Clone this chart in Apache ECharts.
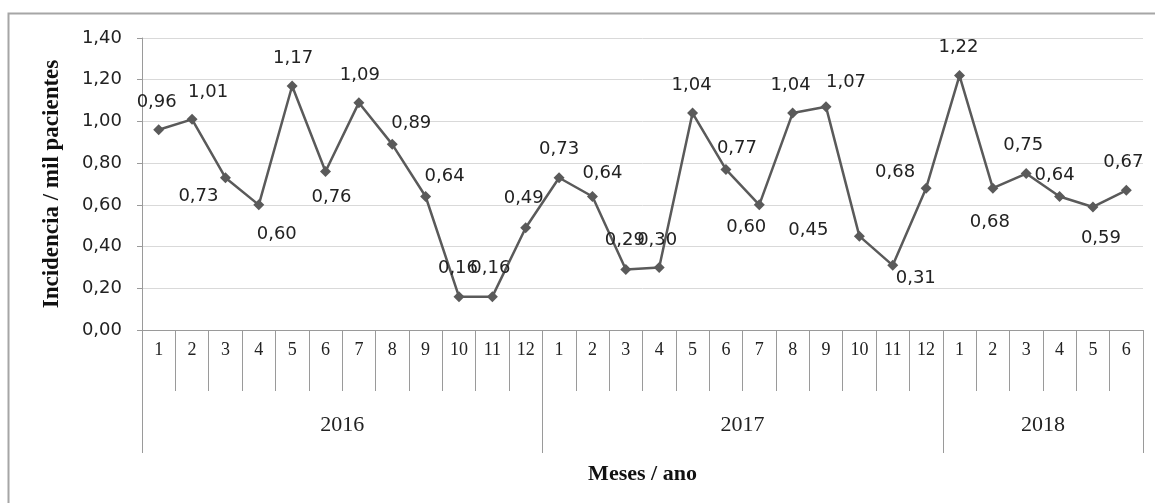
<!DOCTYPE html>
<html lang="pt">
<head>
    <meta charset="utf-8">
    <title>Incidencia / mil pacientes</title>
    <script src="https://cdn.jsdelivr.net/npm/echarts@6.0.0/dist/echarts.min.js"></script>
    <style>
        html, body { margin: 0; padding: 0; background: #fff; }
    </style>
</head>
<body>
    <div id="chart" style="width:1155px; height:503px;"></div>

<script type="text/javascript">
// dados
var months = ['1','2','3','4','5','6','7','8','9','10','11','12',
              '1','2','3','4','5','6','7','8','9','10','11','12',
              '1','2','3','4','5','6'];
var years = ['2016', '2017', '2018'];
var monthsPerYear = [12, 12, 6];
var incidence = [0.96, 1.01, 0.73, 0.60, 1.17, 0.76, 1.09, 0.89, 0.64, 0.16, 0.16, 0.49,
                 0.73, 0.64, 0.29, 0.30, 1.04, 0.77, 0.60, 1.04, 1.07, 0.45, 0.31, 0.68,
                 1.22, 0.68, 0.75, 0.64, 0.59, 0.67];
var yTicks = [0, 0.2, 0.4, 0.6, 0.8, 1.0, 1.2, 1.4];

// posicao dos rotulos (dx, dy em px a partir do ponto)
var labelOffset = [[-2,-27],[16,-27],[-27,19],[18,29],[1,-28],[6,26],[1,-27],[19,-21],[19,-20],[-1,-28],[-2,-28],[-2,-29],
                   [0,-28],[10,-23],[-1,-29],[-2,-27],[-1,-28],[11,-21],[-13,22],[-2,-28],[20,-25],[-51,-6],[23,13],[-31,-16],
                   [-1,-28],[-3,34],[-3,-28],[-5,-21],[8,31],[-3,-28]];

// limites e centros dos anos no eixo
var yearBounds = [0];
var yearCenters = [];
monthsPerYear.forEach(function (n) {
    var start = yearBounds[yearBounds.length - 1];
    yearCenters.push(start + n / 2);
    yearBounds.push(start + n);
});

function fmt(v) { return v.toFixed(2).replace('.', ','); }

var axisGray = '#9a9a9a';
var myChart = echarts.init(document.getElementById('chart'));

myChart.setOption({
    animation: false,
    graphic: [{
        type: 'rect',
        shape: { x: 8.5, y: 13.5, width: 1200, height: 600 },
        style: { fill: 'none', stroke: '#a6a6a6', lineWidth: 2 },
        silent: true
    }],
    grid: { left: 142, right: 12, top: 38, bottom: 173 },
    xAxis: [
        {
            type: 'category',
            data: months,
            boundaryGap: true,
            axisLine: { lineStyle: { color: axisGray, width: 1 } },
            axisTick: { show: true, length: 61, interval: 0, lineStyle: { color: axisGray } },
            axisLabel: { interval: 0, margin: 11, fontFamily: 'Liberation Serif', fontSize: 18, color: '#222' },
            splitLine: { show: false }
        },
        {
            type: 'value',
            min: 0,
            max: yearBounds[yearBounds.length - 1],
            position: 'bottom',
            axisLine: { show: false },
            axisTick: { show: true, length: 123, customValues: yearBounds, lineStyle: { color: axisGray } },
            axisLabel: {
                customValues: yearCenters,
                margin: 84,
                fontFamily: 'Liberation Serif',
                fontSize: 22,
                color: '#222',
                formatter: function (v) {
                    var i = yearCenters.indexOf(v);
                    return i >= 0 ? years[i] : '';
                }
            },
            splitLine: { show: false },
            name: 'Meses / ano',
            nameLocation: 'middle',
            nameGap: 133,
            nameTextStyle: { fontFamily: 'Liberation Serif', fontWeight: 'bold', fontSize: 22, color: '#111' }
        }
    ],
    yAxis: {
        type: 'value',
        min: yTicks[0],
        max: yTicks[yTicks.length - 1],
        interval: 0.2,
        axisLine: { show: true, lineStyle: { color: axisGray } },
        axisTick: { show: true, length: 5, lineStyle: { color: axisGray } },
        axisLabel: { margin: 20, formatter: fmt, fontFamily: 'DejaVu Sans', fontSize: 18, color: '#222' },
        splitLine: { lineStyle: { color: '#d9d9d9', width: 1 } },
        name: 'Incidencia / mil pacientes',
        nameLocation: 'middle',
        nameGap: 78,
        nameRotate: 90,
        nameTextStyle: { fontFamily: 'Liberation Serif', fontWeight: 'bold', fontSize: 23, color: '#111' }
    },
    series: [{
        name: 'Incidencia',
        type: 'line',
        xAxisIndex: 0,
        data: incidence,
        symbol: 'diamond',
        symbolSize: 11,
        lineStyle: { color: '#5a5a5a', width: 2.5 },
        itemStyle: { color: '#5a5a5a' },
        label: {
            show: true,
            position: 'inside',
            align: 'center',
            verticalAlign: 'middle',
            formatter: function (p) { return fmt(p.value); },
            fontFamily: 'DejaVu Sans',
            fontSize: 18,
            color: '#222'
        },
        labelLayout: function (params) {
            var o = labelOffset[params.dataIndex];
            return { dx: o[0], dy: o[1], hideOverlap: false };
        }
    }]
});
</script>
</body>
</html>
